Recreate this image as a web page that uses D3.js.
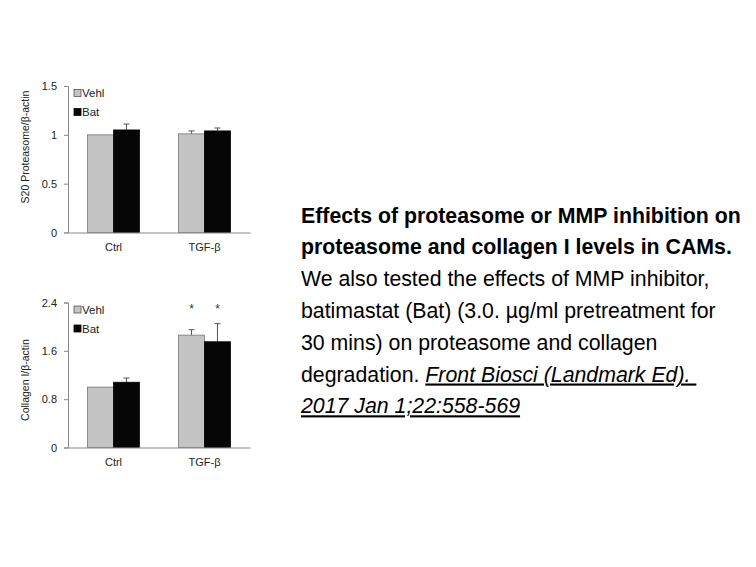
<!DOCTYPE html>
<html><head><meta charset="utf-8">
<script src="https://cdn.jsdelivr.net/npm/d3@7"></script>
<style>
body{margin:0;background:#fff;}
svg{display:block;font-family:"Liberation Sans",Arial,sans-serif;}
</style></head>
<body>
<svg id="c" width="756" height="567"></svg>
<script>
const categories = ["Ctrl", "TGF-β"];
const seriesNames = ["Vehl", "Bat"];
// Top panel: S20 Proteasome/β-actin
const s20Vehl = [1.00, 1.01];
const s20Bat = [1.05, 1.04];
const s20VehlErr = [0.00, 0.03];
const s20BatErr = [0.06, 0.03];
const s20Ticks = [0, 0.5, 1, 1.5];
// Bottom panel: Collagen I/β-actin
const colVehl = [1.00, 1.86];
const colBat = [1.08, 1.75];
const colVehlErr = [0.00, 0.09];
const colBatErr = [0.07, 0.30];
const colTicks = [0, 0.8, 1.6, 2.4];
const colStars = [false, true];

const captionBold = ["Effects of proteasome or MMP inhibition on", "proteasome and collagen I levels in CAMs."];
const captionPlain = ["We also tested the effects of MMP inhibitor,", "batimastat (Bat) (3.0. µg/ml pretreatment for", "30 mins) on proteasome and collagen"];
const captionLast = "degradation. ";
const captionLink = ["Front Biosci (Landmark Ed).\u00a0", "2017 Jan 1;22:558-569"];

const svg = d3.select("#c");
const colors = {Vehl: "#c4c4c4", Bat: "#060606"};

function panel(top, bottom, vehl, bat, vehlErr, batErr, ticks, ylabel, labelCenter, stars, tickFmt) {
  const x0 = 68, x1 = 250;
  const g = svg.append("g");
  const x = d3.scaleBand().domain(categories).range([x0, x1]).paddingInner(0.43).paddingOuter(0.215);
  const xs = d3.scaleBand().domain(seriesNames).range([0, x.bandwidth()]);
  const y = d3.scaleLinear().domain([ticks[0], ticks[ticks.length-1]]).range([bottom, top]);

  const data = [];
  categories.forEach((c, i) => {
    data.push({c, s: "Vehl", v: vehl[i], e: vehlErr[i]});
    data.push({c, s: "Bat", v: bat[i], e: batErr[i]});
  });

  // error bars (upward only)
  data.forEach(d => {
    if (d.e <= 0) return;
    const cx = x(d.c) + xs(d.s) + xs.bandwidth()/2;
    g.append("line").attr("x1", cx).attr("x2", cx).attr("y1", y(d.v)).attr("y2", y(d.v + d.e))
      .attr("stroke", "#555").attr("stroke-width", 1);
    g.append("line").attr("x1", cx-3).attr("x2", cx+3).attr("y1", y(d.v + d.e)).attr("y2", y(d.v + d.e))
      .attr("stroke", "#555").attr("stroke-width", 1);
  });

  g.selectAll("rect.bar").data(data).join("rect")
    .attr("x", d => x(d.c) + xs(d.s))
    .attr("y", d => y(d.v))
    .attr("width", xs.bandwidth())
    .attr("height", d => y(0) - y(d.v))
    .attr("fill", d => colors[d.s])
    .attr("stroke", d => d.s === "Vehl" ? "#777" : "#060606")
    .attr("stroke-width", 0.8);

  // y axis
  const ya = g.append("g").attr("transform", `translate(${x0},0)`)
    .call(d3.axisLeft(y).tickValues(ticks).tickSize(4).tickFormat(tickFmt));
  ya.select(".domain").attr("stroke", "#888");
  ya.selectAll(".tick line").attr("stroke", "#888");
  ya.selectAll(".tick text").attr("font-size", 11).attr("fill", "#222").attr("x", -11)
    .attr("font-family", "Liberation Sans, Arial, sans-serif");

  // x axis
  const xa = g.append("g").attr("transform", `translate(0,${bottom})`)
    .call(d3.axisBottom(x).tickSize(0).tickPadding(11));
  xa.select(".domain").attr("stroke", "#888");
  xa.selectAll(".tick text").attr("font-size", 11).attr("fill", "#222")
    .attr("font-family", "Liberation Sans, Arial, sans-serif");

  // y label
  g.append("text").attr("transform", `translate(29,${labelCenter}) rotate(-90)`)
    .attr("text-anchor", "middle").attr("font-size", 10.5).attr("fill", "#222").text(ylabel);

  // legend
  seriesNames.forEach((s, i) => {
    const ly = top + 7 + i * 19;
    g.append("rect").attr("x", 74).attr("y", ly - 3.5).attr("width", 7).attr("height", 7)
      .attr("fill", colors[s]).attr("stroke", s === "Vehl" ? "#555" : "#060606").attr("stroke-width", 0.8);
    g.append("text").attr("x", 82).attr("y", ly + 4).attr("font-size", 11.5).attr("fill", "#222").text(s);
  });

  // stars
  if (stars) {
    categories.forEach((c, i) => {
      if (!stars[i]) return;
      seriesNames.forEach(s => {
        g.append("text").attr("x", x(c) + xs(s) + xs.bandwidth()/2).attr("y", top + 10)
          .attr("text-anchor", "middle").attr("font-size", 12).attr("fill", "#333").text("*");
      });
    });
  }
}

panel(86, 232.5, s20Vehl, s20Bat, s20VehlErr, s20BatErr, s20Ticks, "S20 Proteasome/β-actin", 147, null, d => d === 0 ? "0" : (d === 1 ? "1" : d3.format(".1f")(d)));
panel(302.5, 447.5, colVehl, colBat, colVehlErr, colBatErr, colTicks, "Collagen I/β-actin", 380, colStars, d => d === 0 ? "0" : d3.format(".1f")(d));

// caption
const cap = svg.append("g").attr("font-size", 21.3).attr("fill", "#000");
const lx = 301, lh = 31.8;
let ly = 222.5;
captionBold.forEach(t => { cap.append("text").attr("x", lx).attr("y", ly).attr("font-weight", "bold").text(t); ly += lh; });
captionPlain.forEach(t => { cap.append("text").attr("x", lx).attr("y", ly).text(t); ly += lh; });
const last = cap.append("text").attr("x", lx).attr("y", ly);
last.append("tspan").text(captionLast);
last.append("tspan").attr("font-style", "italic").attr("text-decoration", "underline").text(captionLink[0]);
ly += lh;
cap.append("text").attr("x", lx).attr("y", ly).attr("font-style", "italic").attr("text-decoration", "underline").text(captionLink[1]);
</script>
</body></html>
